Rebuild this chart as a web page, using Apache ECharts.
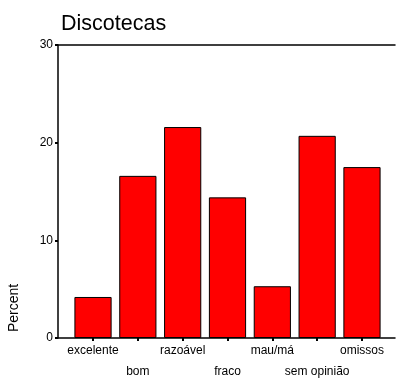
<!DOCTYPE html>
<html><head><meta charset="utf-8">
<script src="https://cdn.jsdelivr.net/npm/echarts@6/dist/echarts.min.js"></script>
<style>html,body{margin:0;padding:0;background:#fff}#c{width:396px;height:383px}</style>
</head><body><div id="c"></div>
<script>
const title = "Discotecas";
const categories = ["excelente","bom","razoável","fraco","mau/má","sem opinião","omissos"];
const percents = [4.2, 16.6, 21.6, 14.4, 5.3, 20.7, 17.5];
const yTicks = [0, 10, 20, 30];
const yLabel = "Percent";

const chart = echarts.init(document.getElementById('c'), null, {renderer:'canvas'});
const font = 'Arial, "Liberation Sans", sans-serif';
chart.setOption({
  animation:false,
  title:{text:title, left:56, top:8, textStyle:{fontFamily:font, fontSize:21.5, fontWeight:'normal', color:'#000'}},
  grid:[
    {left:70.6, right:11.6, top:45, bottom:45, containLabel:false, outerBoundsMode:'none'},
    {left:58, right:1, top:45, bottom:45, containLabel:false, outerBoundsMode:'none'}
  ],
  graphic:[{type:'text', x:14, y:308, rotation:Math.PI/2,
    style:{text:yLabel, font:'14px ' + font, fill:'#000', align:'center', verticalAlign:'middle'}}],
  xAxis:[
    {type:'category', gridIndex:0, data:categories, axisLine:{show:false},
     axisTick:{show:true, alignWithLabel:true, length:3, inside:false, lineStyle:{color:'#000', width:2}},
     axisLabel:{interval:0, fontFamily:font, fontSize:12, color:'#000',
       formatter:(v,i)=> i%2===0 ? v : '\n\n'+v, lineHeight:10.5, margin:7}},
    {type:'value', gridIndex:1, min:0, max:1, position:'bottom', axisLine:{show:true, lineStyle:{color:'#000', width:1.5}},
     axisTick:{show:false}, axisLabel:{show:false}, splitLine:{show:false}},
    {type:'value', gridIndex:1, min:0, max:1, position:'top', axisLine:{show:true, onZero:false, lineStyle:{color:'#000', width:1.5}},
     axisTick:{show:false}, axisLabel:{show:false}, splitLine:{show:false}}
  ],
  yAxis:[
    {type:'value', gridIndex:0, min:0, max:30, interval:10, show:false},
    {type:'value', gridIndex:1, min:yTicks[0], max:yTicks[yTicks.length-1], interval:10,
     axisLine:{show:true, lineStyle:{color:'#000', width:1.5}},
     axisTick:{show:true, length:3, lineStyle:{color:'#000', width:2}},
     axisLabel:{fontFamily:font, fontSize:12, color:'#000', margin:5},
     splitLine:{show:false}}
  ],
  series:[{
    type:'bar', xAxisIndex:0, yAxisIndex:0, data:percents, barWidth:'83%',
    itemStyle:{color:'#ff0000', borderColor:'#000', borderWidth:1}
  }]
});
</script></body></html>
